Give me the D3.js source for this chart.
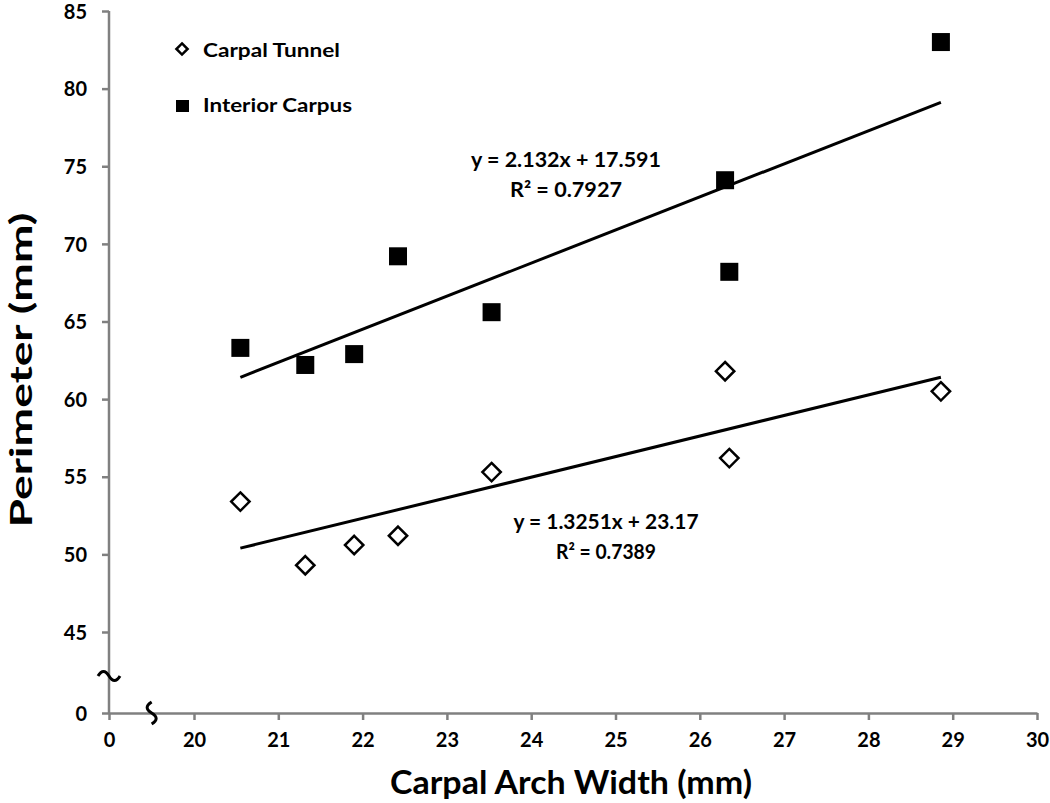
<!DOCTYPE html>
<html>
<head>
<meta charset="utf-8">
<script src="https://cdn.jsdelivr.net/npm/d3@7"></script>
<style>
  body { margin: 0; background: #fff; }
  text { font-family: Lato, "Open Sans", sans-serif; font-weight: bold; fill: #000; }
</style>
</head>
<body>
<div id="chart"></div>
<script>
// data
const archWidth = [20.55, 21.32, 21.90, 22.42, 23.53, 26.30, 26.35, 28.86];
const carpalTunnel = [53.4, 49.3, 50.6, 51.2, 55.3, 61.8, 56.2, 60.5];
const interiorCarpus = [63.3, 62.2, 62.9, 69.2, 65.6, 74.1, 68.2, 83.0];
const xTicks = [0, 20, 21, 22, 23, 24, 25, 26, 27, 28, 29, 30];
const yTicks = [0, 45, 50, 55, 60, 65, 70, 75, 80, 85];
// trend lines (from the chart labels)
const fits = [
  { name: "Interior Carpus", slope: 2.132, icept: 17.591, r2: "0.7927", eq: "y = 2.132x + 17.591" },
  { name: "Carpal Tunnel", slope: 1.3251, icept: 23.17, r2: "0.7389", eq: "y = 1.3251x + 23.17" }
];

const width = 1050, height = 803;

const svg = d3.select("#chart")
  .append("svg")
    .attr("width", width)
    .attr("height", height);

// broken axes: 0 then jump to 20 / 45
const x = d3.scaleLinear().domain([0, 20, 30]).range([109, 194, 1037]);
const y = d3.scaleLinear().domain([0, 45, 85]).range([713, 632, 11]);

const axisColor = "#808080";

const xAxis = svg.append("g")
  .attr("transform", `translate(0,${y(0)})`)
  .call(d3.axisBottom(x).tickValues(xTicks).tickFormat(d3.format("d")).tickSize(7).tickSizeOuter(0).tickPadding(13));

const yAxis = svg.append("g")
  .attr("transform", `translate(${x(0)},0)`)
  .call(d3.axisLeft(y).tickValues(yTicks).tickFormat(d3.format("d")).tickSize(7).tickSizeOuter(0).tickPadding(15));

[xAxis, yAxis].forEach(g => {
  g.select(".domain").attr("stroke", axisColor).attr("stroke-width", 2.5);
  g.selectAll(".tick line").attr("stroke", axisColor).attr("stroke-width", 2.5);
  g.selectAll(".tick text").style("font-size", "20px").attr("fill", "#000");
});
yAxis.selectAll(".tick text").attr("dy", "0.36em");

// y axis line runs from the top tick down to the x axis
yAxis.select(".domain").attr("d", `M0,${y(85)}V${y(0)}`);

// break marks
svg.append("path")
  .attr("d", `M${x(0) - 11},${y(20) - 1} q5.5,-9 11,0 t11,0`)
  .attr("fill", "none").attr("stroke", "#000").attr("stroke-width", 3);
svg.append("path")
  .attr("d", `M${x(9.8) + 1},${y(0) - 11} q-9,5.5 0,11 t0,11`)
  .attr("fill", "none").attr("stroke", "#000").attr("stroke-width", 3);

// trend lines
const xMin = d3.min(archWidth), xMax = d3.max(archWidth);
svg.selectAll(".fit")
  .data(fits)
  .join("line")
    .attr("class", "fit")
    .attr("x1", x(xMin))
    .attr("y1", d => y(d.slope * xMin + d.icept))
    .attr("x2", x(xMax))
    .attr("y2", d => y(d.slope * xMax + d.icept))
    .attr("stroke", "#000")
    .attr("stroke-width", 3);

// points
const sq = 18;
svg.selectAll(".ic")
  .data(archWidth.map((w, i) => [w, interiorCarpus[i]]))
  .join("rect")
    .attr("class", "ic")
    .attr("x", d => x(d[0]) - sq / 2)
    .attr("y", d => y(d[1]) - sq / 2)
    .attr("width", sq)
    .attr("height", sq)
    .attr("fill", "#000");

const diamond = d3.symbol().type(d3.symbolDiamond2).size(215);
svg.selectAll(".ct")
  .data(archWidth.map((w, i) => [w, carpalTunnel[i]]))
  .join("path")
    .attr("class", "ct")
    .attr("d", diamond)
    .attr("transform", d => `translate(${x(d[0])},${y(d[1])})`)
    .attr("fill", "#fff")
    .attr("stroke", "#000")
    .attr("stroke-width", 2.5);

// equations
const eqPos = [{ cx: 566, cy: 167, w1: 190, w2: 112 }, { cx: 606, cy: 529, w1: 185, w2: 100 }];
fits.forEach((f, i) => {
  const p = eqPos[i];
  svg.append("text")
    .attr("x", p.cx).attr("y", p.cy)
    .attr("text-anchor", "middle")
    .attr("textLength", p.w1).attr("lengthAdjust", "spacingAndGlyphs")
    .style("font-size", "20px")
    .text(f.eq);
  svg.append("text")
    .attr("x", p.cx).attr("y", p.cy + 30)
    .attr("text-anchor", "middle")
    .attr("textLength", p.w2).attr("lengthAdjust", "spacingAndGlyphs")
    .style("font-size", "20px")
    .text(`R² = ${f.r2}`);
});

// legend
svg.append("path")
  .attr("d", d3.symbol().type(d3.symbolDiamond2).size(80))
  .attr("transform", "translate(182,49)")
  .attr("fill", "#fff").attr("stroke", "#000").attr("stroke-width", 2.5);
svg.append("text").attr("x", 203).attr("y", 57)
  .attr("textLength", 137).attr("lengthAdjust", "spacingAndGlyphs")
  .style("font-size", "18px").text("Carpal Tunnel");
svg.append("rect").attr("x", 176).attr("y", 100).attr("width", 13).attr("height", 12).attr("fill", "#000");
svg.append("text").attr("x", 203).attr("y", 112)
  .attr("textLength", 149).attr("lengthAdjust", "spacingAndGlyphs")
  .style("font-size", "18px").text("Interior Carpus");

// axis titles
svg.append("text")
  .attr("x", 571)
  .attr("y", 794)
  .attr("text-anchor", "middle")
  .attr("textLength", 362).attr("lengthAdjust", "spacingAndGlyphs")
  .style("font-size", "32px")
  .text("Carpal Arch Width (mm)");

svg.append("text")
  .attr("transform", "translate(32,370) rotate(-90)")
  .attr("text-anchor", "middle")
  .attr("textLength", 315).attr("lengthAdjust", "spacingAndGlyphs")
  .style("font-size", "30px")
  .text("Perimeter (mm)");
</script>
</body>
</html>
